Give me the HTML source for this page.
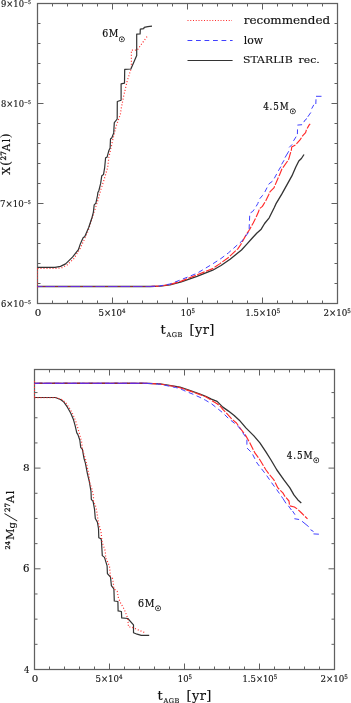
<!DOCTYPE html>
<html><head><meta charset="utf-8"><title>plot</title>
<style>html,body{margin:0;padding:0;background:#fff;}body{width:351px;height:703px;overflow:hidden;}svg{display:block;}</style>
</head><body>
<svg width="351" height="703" viewBox="0 0 351 703">
<rect width="351" height="703" fill="#fff"/>
<rect x="37.5" y="3.5" width="300.0" height="300.0" fill="none" stroke="#606060" stroke-width="1.25"/>
<path d="M112.5,303.5v-6M112.5,3.5v6M187.5,303.5v-6M187.5,3.5v6M262.5,303.5v-6M262.5,3.5v6M52.5,303.5v-3M52.5,3.5v3M67.5,303.5v-3M67.5,3.5v3M82.5,303.5v-3M82.5,3.5v3M97.5,303.5v-3M97.5,3.5v3M127.5,303.5v-3M127.5,3.5v3M142.5,303.5v-3M142.5,3.5v3M157.5,303.5v-3M157.5,3.5v3M172.5,303.5v-3M172.5,3.5v3M202.5,303.5v-3M202.5,3.5v3M217.5,303.5v-3M217.5,3.5v3M232.5,303.5v-3M232.5,3.5v3M247.5,303.5v-3M247.5,3.5v3M277.5,303.5v-3M277.5,3.5v3M292.5,303.5v-3M292.5,3.5v3M307.5,303.5v-3M307.5,3.5v3M322.5,303.5v-3M322.5,3.5v3M37.5,103.5h6M337.5,103.5h-6M37.5,203.5h6M337.5,203.5h-6M37.5,23.5h3M337.5,23.5h-3M37.5,43.5h3M337.5,43.5h-3M37.5,63.5h3M337.5,63.5h-3M37.5,83.5h3M337.5,83.5h-3M37.5,123.5h3M337.5,123.5h-3M37.5,143.5h3M337.5,143.5h-3M37.5,163.5h3M337.5,163.5h-3M37.5,183.5h3M337.5,183.5h-3M37.5,223.5h3M337.5,223.5h-3M37.5,243.5h3M337.5,243.5h-3M37.5,263.5h3M337.5,263.5h-3M37.5,283.5h3M337.5,283.5h-3" stroke="#606060" stroke-width="1" fill="none"/>
<rect x="34.5" y="369.5" width="300.0" height="300.0" fill="none" stroke="#606060" stroke-width="1.25"/>
<path d="M109.5,669.5v-6M109.5,369.5v6M184.5,669.5v-6M184.5,369.5v6M259.5,669.5v-6M259.5,369.5v6M49.5,669.5v-3M49.5,369.5v3M64.5,669.5v-3M64.5,369.5v3M79.5,669.5v-3M79.5,369.5v3M94.5,669.5v-3M94.5,369.5v3M124.5,669.5v-3M124.5,369.5v3M139.5,669.5v-3M139.5,369.5v3M154.5,669.5v-3M154.5,369.5v3M169.5,669.5v-3M169.5,369.5v3M199.5,669.5v-3M199.5,369.5v3M214.5,669.5v-3M214.5,369.5v3M229.5,669.5v-3M229.5,369.5v3M244.5,669.5v-3M244.5,369.5v3M274.5,669.5v-3M274.5,369.5v3M289.5,669.5v-3M289.5,369.5v3M304.5,669.5v-3M304.5,369.5v3M319.5,669.5v-3M319.5,369.5v3M34.5,568.8h6M334.5,568.8h-6M34.5,468.1h6M334.5,468.1h-6M34.5,644.325h3M334.5,644.325h-3M34.5,619.15h3M334.5,619.15h-3M34.5,593.975h3M334.5,593.975h-3M34.5,543.625h3M334.5,543.625h-3M34.5,518.45h3M334.5,518.45h-3M34.5,493.275h3M334.5,493.275h-3M34.5,442.92499999999995h3M334.5,442.92499999999995h-3M34.5,417.75h3M334.5,417.75h-3M34.5,392.575h3M334.5,392.575h-3" stroke="#606060" stroke-width="1" fill="none"/>
<polyline points="37.5,286.5 150.0,286.5 160.0,286.2 170.0,284.9 181.3,281.8 197.0,276.4 212.7,270.2 221.0,265.5 230.1,259.2 241.5,250.0 246.4,244.6 252.1,238.3 256.7,233.2 261.2,229.2 264.6,223.5 269.2,217.8 274.3,207.5 275.9,203.9 281.9,193.9 286.9,184.9 291.9,175.9 295.8,167.0 298.8,161.0 301.4,158.5 304.0,154.5" fill="none" stroke="#333" stroke-width="1.3" stroke-linejoin="round" opacity="1"/>
<polyline points="37.5,286.5 150.0,286.5 160.0,286.1 170.0,284.5 181.3,281.1 197.0,274.9 212.7,268.6 220.0,263.6 227.8,258.0 237.8,248.8 240.7,244.6 246.4,234.3 249.8,229.2 253.2,222.9 256.1,217.2 258.4,212.1 259.5,208.7 262.4,206.4 265.8,200.7 268.6,195.0 269.9,191.9 273.9,187.9 279.9,173.9 281.9,169.0 286.9,162.0 288.5,159.8 291.4,149.8 291.7,147.0 295.7,144.8 300.0,139.9 302.8,135.6 305.6,132.7 306.4,129.9 309.2,124.9 310.2,123.8" fill="none" stroke="#ff2a2a" stroke-width="1.15" stroke-dasharray="8 1.5" stroke-dashoffset="0" stroke-linejoin="round" opacity="1"/>
<polyline points="37.5,286.5 150.0,286.5 160.0,285.9 170.0,284.0 181.3,279.6 197.0,273.3 212.7,263.9 221.0,258.5 228.4,252.9 238.4,244.0 241.8,241.2 249.2,231.5 249.2,226.9 249.8,213.2 252.7,211.5 255.5,207.5 257.8,203.5 259.5,199.0 262.4,195.6 264.9,191.9 268.9,183.9 272.9,180.9 278.9,169.9 281.9,165.0 281.6,164.4" fill="none" stroke="#4040ff" stroke-width="1.0" stroke-dasharray="5 3.5" stroke-dashoffset="6.5" stroke-linejoin="round" opacity="1"/>
<polyline points="281.6,164.4 284.1,160.2" fill="none" stroke="#4040ff" stroke-width="1.0" stroke-linejoin="round" opacity="1"/>
<polyline points="285.0,157.6 288.8,151.2" fill="none" stroke="#4040ff" stroke-width="1.0" stroke-linejoin="round" opacity="1"/>
<polyline points="289.2,147.4 292.2,144.4" fill="none" stroke="#4040ff" stroke-width="1.0" stroke-linejoin="round" opacity="1"/>
<polyline points="293.5,140.9 296.1,136.7" fill="none" stroke="#4040ff" stroke-width="1.0" stroke-linejoin="round" opacity="1"/>
<polyline points="297.4,134.1 297.5,129.4" fill="none" stroke="#4040ff" stroke-width="1.0" stroke-linejoin="round" opacity="1"/>
<polyline points="297.4,125.1 302.1,124.7" fill="none" stroke="#4040ff" stroke-width="1.0" stroke-linejoin="round" opacity="1"/>
<polyline points="303.8,122.1 305.1,120.0 307.0,118.5" fill="none" stroke="#4040ff" stroke-width="1.0" stroke-linejoin="round" opacity="1"/>
<polyline points="307.8,116.8 310.8,112.5" fill="none" stroke="#4040ff" stroke-width="1.0" stroke-linejoin="round" opacity="1"/>
<polyline points="311.7,108.7 313.8,104.8" fill="none" stroke="#4040ff" stroke-width="1.0" stroke-linejoin="round" opacity="1"/>
<polyline points="315.8,104.0 316.0,99.3" fill="none" stroke="#4040ff" stroke-width="1.0" stroke-linejoin="round" opacity="1"/>
<polyline points="316.0,96.3 321.5,96.3" fill="none" stroke="#4040ff" stroke-width="1.0" stroke-linejoin="round" opacity="1"/>
<polyline points="37.5,268.5 56.0,268.5 62.0,267.7 67.0,265.0 74.0,258.5 80.1,248.4 84.4,239.4 87.8,231.8 92.5,217.2 95.5,207.8 98.5,198.4 101.0,189.0 104.0,180.0 107.7,167.3 108.9,157.0 111.0,148.0 113.1,138.3 116.1,126.3 120.4,114.2 121.1,109.1 123.7,95.9 127.1,81.4 131.4,67.7 131.4,50.2 137.1,50.2 147.9,35.4" fill="none" stroke="#ff2a2a" stroke-width="1.2" stroke-dasharray="1 2" stroke-dashoffset="0" stroke-linejoin="round" opacity="1"/>
<polyline points="37.5,268.5 37.5,289.0" fill="none" stroke="#ff2a2a" stroke-width="1.0" stroke-dasharray="1 2" stroke-dashoffset="0" stroke-linejoin="round" opacity="1"/>
<polyline points="37.5,267.4 55.0,267.4 60.5,266.4 65.6,263.9 72.5,257.1 78.4,249.7 80.1,244.6 83.1,237.7 84.8,236.5 88.7,227.5 92.1,217.2 93.4,212.1 94.2,204.8 95.9,203.1 97.6,195.0 97.8,192.8 98.9,190.5 100.6,183.7 101.8,175.7 103.5,174.6 104.7,167.3 105.6,157.7 107.1,157.1 108.9,150.4 110.1,148.0 110.5,139.0 111.9,137.7 113.7,132.9 114.3,122.6 115.5,121.2 117.2,119.0 117.3,101.5 121.1,100.2 121.1,83.9 124.5,83.1 124.7,69.4 130.9,69.0 136.7,55.6 136.7,34.2 140.1,33.9 140.3,29.1 143.7,28.7 144.2,27.3 147.8,26.6 152.0,26.2" fill="none" stroke="#333" stroke-width="1.2" stroke-linejoin="round" opacity="1"/>
<polyline points="34.5,383.3 147.0,383.3 160.0,383.9 175.5,386.3 180.0,387.2 190.3,390.6 200.0,394.0 205.7,396.3 211.4,399.1 217.1,401.4 222.8,407.1 228.5,411.1 234.2,415.6 239.3,420.2 245.9,427.9 253.9,435.9 259.9,442.9 265.9,451.9 271.0,460.0 276.9,470.0 283.9,479.9 289.9,487.9 293.9,494.9 297.9,499.9 301.3,502.9" fill="none" stroke="#333" stroke-width="1.3" stroke-linejoin="round" opacity="1"/>
<polyline points="34.5,383.3 147.0,383.3 160.0,384.0 175.5,386.6 180.0,387.7 190.3,391.1 200.0,394.6 205.7,396.8 211.4,400.3 217.1,403.7 221.1,407.1 222.8,409.4 226.2,412.8 231.9,419.1 236.5,423.0 239.3,427.0 245.9,435.9 249.9,442.9 254.9,452.9 260.0,460.0 266.0,470.0 269.0,474.0 273.9,479.9 277.9,487.9 282.9,492.9 284.8,496.2 289.0,501.0 289.6,505.8 294.4,507.0 297.9,509.4 302.1,513.5 303.9,515.3 307.5,518.9" fill="none" stroke="#ff2a2a" stroke-width="1.15" stroke-dasharray="8 1.5" stroke-dashoffset="0" stroke-linejoin="round" opacity="1"/>
<polyline points="34.5,383.3 147.0,383.3 160.0,384.2 175.5,387.5 180.0,388.5 183.4,390.3 193.7,394.5 200.0,397.4 205.7,400.3 211.4,403.7 217.1,408.2 222.8,412.8 228.5,418.5 234.2,423.0 239.3,427.6 244.9,435.9 246.9,438.9 246.9,447.9 251.9,452.9 257.0,463.0 264.0,472.0 267.0,476.0 271.0,481.9 276.9,489.9 283.0,498.6" fill="none" stroke="#4040ff" stroke-width="1.0" stroke-dasharray="5 3.5" stroke-dashoffset="5.9" stroke-linejoin="round" opacity="1"/>
<polyline points="283.0,498.6 286.0,503.4" fill="none" stroke="#4040ff" stroke-width="1.0" stroke-linejoin="round" opacity="1"/>
<polyline points="288.4,505.8 291.4,510.0" fill="none" stroke="#4040ff" stroke-width="1.0" stroke-linejoin="round" opacity="1"/>
<polyline points="292.6,511.1 295.0,514.7" fill="none" stroke="#4040ff" stroke-width="1.0" stroke-linejoin="round" opacity="1"/>
<polyline points="294.4,518.7 299.1,519.5" fill="none" stroke="#4040ff" stroke-width="1.0" stroke-linejoin="round" opacity="1"/>
<polyline points="302.1,521.3 308.7,526.7" fill="none" stroke="#4040ff" stroke-width="1.0" stroke-linejoin="round" opacity="1"/>
<polyline points="310.5,529.7 313.5,531.5" fill="none" stroke="#4040ff" stroke-width="1.0" stroke-linejoin="round" opacity="1"/>
<polyline points="313.5,533.9 318.9,534.2" fill="none" stroke="#4040ff" stroke-width="1.0" stroke-linejoin="round" opacity="1"/>
<polyline points="34.5,397.5 55.4,397.5 60.5,399.5 63.9,402.1 67.4,407.2 70.8,413.2 73.3,419.2 75.0,425.2 76.8,432.9 77.9,434.6 79.8,440.0 80.7,447.3 82.4,449.4 84.1,458.8 85.4,463.1 87.5,474.2 89.2,481.0 91.0,491.3 91.3,499.3 93.1,501.4 94.5,509.2 95.3,518.5 97.4,522.1 98.5,528.5 98.8,537.7 101.0,538.8 101.4,540.3 102.3,555.6 104.5,557.4 107.1,565.9 107.4,573.6 110.5,577.0 111.4,585.6 113.9,589.0 114.3,601.0 117.9,601.5 118.1,610.9 121.4,611.5 121.7,617.9 127.8,618.5 133.5,624.9 133.5,632.7 137.1,634.2 141.3,635.4 149.2,635.4" fill="none" stroke="#333" stroke-width="1.2" stroke-linejoin="round" opacity="1"/>
<polyline points="34.5,397.6 56.0,397.6 62.0,399.6 66.0,403.2 69.5,408.2 73.0,414.5 75.5,420.5 77.5,427.0 79.5,434.0 81.6,441.7 82.4,449.4 84.5,456.2 86.3,461.8 87.1,466.5 88.8,474.2 89.7,482.7 91.8,488.7 93.5,496.1 93.5,501.4 95.3,505.0 96.3,509.2 97.0,512.8 97.8,518.5 98.5,523.5 100.2,528.5 101.3,533.5 101.7,539.2 102.3,542.6 105.3,551.1 105.7,558.0 107.8,562.2 109.5,566.5 110.0,571.6 110.4,575.9 112.5,578.5 113.4,583.6 113.8,588.7 117.2,591.3 118.5,598.1 120.8,603.5 124.2,609.2 127.8,618.5 128.5,627.0 131.4,627.0 144.9,632.7" fill="none" stroke="#ff2a2a" stroke-width="1.2" stroke-dasharray="1 2" stroke-dashoffset="0" stroke-linejoin="round" opacity="1"/>
<polyline points="34.5,381.0 34.5,397.5" fill="none" stroke="#ff2a2a" stroke-width="1.0" stroke-dasharray="1 2" stroke-dashoffset="0" stroke-linejoin="round" opacity="1"/>
<line x1="37.5" y1="286.5" x2="156" y2="286.5" stroke="#6a2ad6" stroke-width="1.2"/>
<line x1="42.5" y1="286.5" x2="156" y2="286.5" stroke="#8a3038" stroke-width="1.2" stroke-dasharray="3 9.5"/>
<line x1="34.5" y1="383.3" x2="148" y2="383.3" stroke="#6a2ad6" stroke-width="1.2"/>
<line x1="39.5" y1="383.3" x2="148" y2="383.3" stroke="#8a3038" stroke-width="1.2" stroke-dasharray="3 9.5"/>
<line x1="187.5" y1="20.5" x2="232" y2="20.5" stroke="#ff2a2a" stroke-width="1.2" stroke-dasharray="1 1.75"/>
<line x1="187.5" y1="40.5" x2="232.6" y2="40.5" stroke="#4040ff" stroke-width="1" stroke-dasharray="4.8 3.7"/>
<line x1="187.5" y1="60.5" x2="232.6" y2="60.5" stroke="#333" stroke-width="1"/>
<text transform="translate(243.70,23.70) scale(1.087,1.025)" font-family="DejaVu Serif, Liberation Serif, serif" font-size="11" fill="#111" stroke="#111" stroke-width="0.15">recommended</text>
<text transform="translate(243.80,43.50) scale(0.989,1.037)" font-family="DejaVu Serif, Liberation Serif, serif" font-size="11" fill="#111" stroke="#111" stroke-width="0.15">low</text>
<text transform="translate(243.01,63.40) scale(0.989,0.888)" font-family="DejaVu Serif, Liberation Serif, serif" font-size="11" fill="#111" stroke="#111" stroke-width="0.15"><tspan word-spacing="2.5">STARLIB rec.</tspan></text>
<text transform="translate(1.00,7.00) scale(0.931,0.986)" font-family="DejaVu Serif, Liberation Serif, serif" font-size="9" fill="#111" stroke="#111" stroke-width="0.15">9×10<tspan font-size="5.0" dy="-3.0">−5</tspan></text>
<text transform="translate(1.00,107.00) scale(0.931,0.986)" font-family="DejaVu Serif, Liberation Serif, serif" font-size="9" fill="#111" stroke="#111" stroke-width="0.15">8×10<tspan font-size="5.0" dy="-3.0">−5</tspan></text>
<text transform="translate(0.04,207.00) scale(0.961,0.986)" font-family="DejaVu Serif, Liberation Serif, serif" font-size="9" fill="#111" stroke="#111" stroke-width="0.15">7×10<tspan font-size="5.0" dy="-3.0">−5</tspan></text>
<text transform="translate(1.00,307.00) scale(0.931,0.986)" font-family="DejaVu Serif, Liberation Serif, serif" font-size="9" fill="#111" stroke="#111" stroke-width="0.15">6×10<tspan font-size="5.0" dy="-3.0">−5</tspan></text>
<text transform="translate(34.80,315.70) scale(1.140,1.029)" font-family="DejaVu Serif, Liberation Serif, serif" font-size="9" fill="#111" stroke="#111" stroke-width="0.15">0</text>
<text transform="translate(98.45,315.70) scale(0.952,1.043)" font-family="DejaVu Serif, Liberation Serif, serif" font-size="9" fill="#111" stroke="#111" stroke-width="0.15">5×10<tspan font-size="5.8" dy="-2.7">4</tspan></text>
<text transform="translate(180.86,315.70) scale(0.936,1.043)" font-family="DejaVu Serif, Liberation Serif, serif" font-size="9" fill="#111" stroke="#111" stroke-width="0.15">10<tspan font-size="5.8" dy="-2.7">5</tspan></text>
<text transform="translate(245.46,315.70) scale(0.939,1.043)" font-family="DejaVu Serif, Liberation Serif, serif" font-size="9" fill="#111" stroke="#111" stroke-width="0.15">1.5×10<tspan font-size="5.8" dy="-2.7">5</tspan></text>
<text transform="translate(323.43,315.70) scale(0.967,1.043)" font-family="DejaVu Serif, Liberation Serif, serif" font-size="9" fill="#111" stroke="#111" stroke-width="0.15">2×10<tspan font-size="5.8" dy="-2.7">5</tspan></text>
<text transform="translate(22.96,471.40) scale(1.040,0.986)" font-family="DejaVu Serif, Liberation Serif, serif" font-size="10" fill="#111" stroke="#111" stroke-width="0.15">8</text>
<text transform="translate(22.98,572.30) scale(1.020,1.029)" font-family="DejaVu Serif, Liberation Serif, serif" font-size="10" fill="#111" stroke="#111" stroke-width="0.15">6</text>
<text transform="translate(23.90,673.00) scale(0.850,1.000)" font-family="DejaVu Serif, Liberation Serif, serif" font-size="10" fill="#111" stroke="#111" stroke-width="0.15">4</text>
<text transform="translate(102.26,37.20) scale(0.944,1.086)" font-family="DejaVu Serif, Liberation Serif, serif" font-size="10" fill="#111" stroke="#111" stroke-width="0.2"><tspan letter-spacing="0.6">6M</tspan></text>
<text transform="translate(263.20,110.00) scale(0.872,1.143)" font-family="DejaVu Serif, Liberation Serif, serif" font-size="10" fill="#111" stroke="#111" stroke-width="0.2"><tspan letter-spacing="1">4.5M</tspan></text>
<text transform="translate(286.80,459.00) scale(0.886,1.143)" font-family="DejaVu Serif, Liberation Serif, serif" font-size="10" fill="#111" stroke="#111" stroke-width="0.2"><tspan letter-spacing="1">4.5M</tspan></text>
<text transform="translate(138.05,607.20) scale(0.950,1.100)" font-family="DejaVu Serif, Liberation Serif, serif" font-size="10" fill="#111" stroke="#111" stroke-width="0.2"><tspan letter-spacing="0.6">6M</tspan></text>
<text transform="translate(-3,366) translate(34.80,315.70) scale(1.140,1.029)" font-family="DejaVu Serif, Liberation Serif, serif" font-size="9" fill="#111" stroke="#111" stroke-width="0.15">0</text>
<text transform="translate(-3,366) translate(98.45,315.70) scale(0.952,1.043)" font-family="DejaVu Serif, Liberation Serif, serif" font-size="9" fill="#111" stroke="#111" stroke-width="0.15">5×10<tspan font-size="5.8" dy="-2.7">4</tspan></text>
<text transform="translate(-3,366) translate(180.86,315.70) scale(0.936,1.043)" font-family="DejaVu Serif, Liberation Serif, serif" font-size="9" fill="#111" stroke="#111" stroke-width="0.15">10<tspan font-size="5.8" dy="-2.7">5</tspan></text>
<text transform="translate(-3,366) translate(245.46,315.70) scale(0.939,1.043)" font-family="DejaVu Serif, Liberation Serif, serif" font-size="9" fill="#111" stroke="#111" stroke-width="0.15">1.5×10<tspan font-size="5.8" dy="-2.7">5</tspan></text>
<text transform="translate(-3,366) translate(323.43,315.70) scale(0.967,1.043)" font-family="DejaVu Serif, Liberation Serif, serif" font-size="9" fill="#111" stroke="#111" stroke-width="0.15">2×10<tspan font-size="5.8" dy="-2.7">5</tspan></text>
<g transform="translate(0,0)" font-family="DejaVu Serif, Liberation Serif, serif" fill="#111" stroke="#111" stroke-width="0.15"><text x="160.6" y="333.6" font-size="13">t</text><text x="166.4" y="336.8" font-size="6.6" letter-spacing="0.6">AGB</text><text x="189.4" y="333.6" font-size="13" letter-spacing="0.45">[yr]</text></g>
<g transform="translate(-3,366)" font-family="DejaVu Serif, Liberation Serif, serif" fill="#111" stroke="#111" stroke-width="0.15"><text x="160.6" y="333.6" font-size="13">t</text><text x="166.4" y="336.8" font-size="6.6" letter-spacing="0.6">AGB</text><text x="189.4" y="333.6" font-size="13" letter-spacing="0.45">[yr]</text></g>
<text transform="translate(118.44,41.75) scale(0.458)" font-family="DejaVu Sans, serif" font-size="16" fill="#111" stroke="#111" stroke-width="0.7">☉</text>
<text transform="translate(289.39,114.15) scale(0.458)" font-family="DejaVu Sans, serif" font-size="16" fill="#111" stroke="#111" stroke-width="0.7">☉</text>
<text transform="translate(313.09,463.05) scale(0.458)" font-family="DejaVu Sans, serif" font-size="16" fill="#111" stroke="#111" stroke-width="0.7">☉</text>
<text transform="translate(154.79,611.35) scale(0.458)" font-family="DejaVu Sans, serif" font-size="16" fill="#111" stroke="#111" stroke-width="0.7">☉</text>
<text transform="translate(9.70,174.84) rotate(-90)" font-family="DejaVu Serif, Liberation Serif, serif" fill="#111"><tspan x="0.00" y="0.00" font-size="11.04" stroke="#111" stroke-width="0.138">X</tspan><tspan x="8.93" y="0.65" font-size="13.50" stroke="none">(</tspan><tspan x="14.36" y="-3.80" font-size="7.32" stroke="#111" stroke-width="0.305">27</tspan><tspan x="23.68" y="0.00" font-size="10.56" stroke="#111" stroke-width="0.132">A</tspan><tspan x="32.70" y="0.00" font-size="11.04" stroke="#111" stroke-width="0.138">l</tspan><tspan x="36.33" y="0.65" font-size="13.50" stroke="none">)</tspan></text>
<text transform="translate(9.60,549.55) rotate(-90)" font-family="DejaVu Serif, Liberation Serif, serif" fill="#111"><tspan x="0.00" y="0.00" font-size="6.60" stroke="#111" stroke-width="0.275">24</tspan><tspan x="9.46" y="4.40" font-size="11.28" stroke="#111" stroke-width="0.141">M</tspan><tspan x="21.18" y="4.94" font-size="9.84" stroke="#111" stroke-width="0.123">g</tspan></text>
<text transform="translate(9.60,511.95) rotate(-90)" font-family="DejaVu Serif, Liberation Serif, serif" fill="#111"><tspan x="0.00" y="0.00" font-size="7.20" stroke="#111" stroke-width="0.300">27</tspan><tspan x="9.00" y="4.40" font-size="10.80" stroke="#111" stroke-width="0.135">A</tspan><tspan x="17.67" y="4.40" font-size="11.28" stroke="#111" stroke-width="0.141">l</tspan></text>
<text transform="translate(16.6,521.6) rotate(-90) skewX(-14)" font-family="Liberation Serif, serif" font-size="19" fill="#111">/</text>
</svg>
</body></html>
